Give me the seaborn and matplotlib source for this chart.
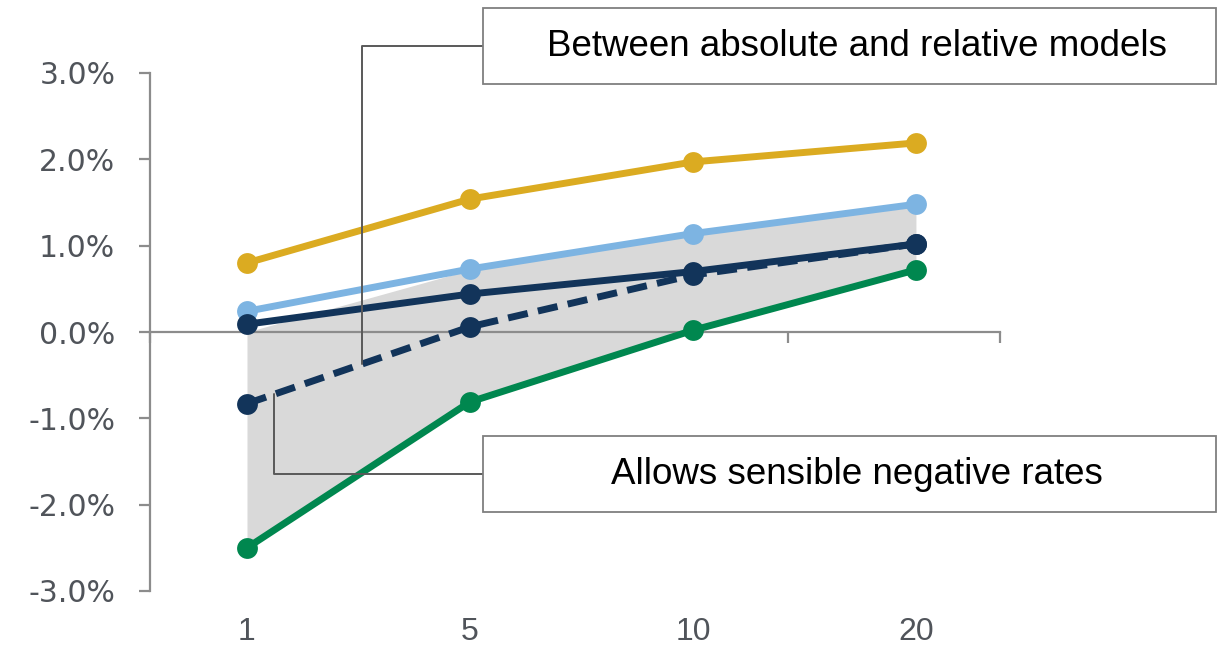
import seaborn as sns
import pandas as pd
import numpy as np
import matplotlib.pyplot as plt
from matplotlib.lines import Line2D
from matplotlib.patches import Rectangle

# data (values in %)
maturities = ["1", "5", "10", "20"]
gold = [0.80, 1.54, 1.97, 2.19]
light_blue = [0.24, 0.73, 1.14, 1.48]
navy = [0.09, 0.44, 0.70, 1.02]
navy_dashed = [-0.83, 0.06, 0.66, 1.02]
green = [-2.50, -0.81, 0.02, 0.72]
band_top = [0.0, 0.72, 1.14, 1.45]
y_ticks = [-3, -2, -1, 0, 1, 2, 3]
note_top = "Between absolute and relative models"
note_bottom = "Allows sensible negative rates"

sns.set_style("white")
plt.rcParams["font.family"] = ["DejaVu Sans"]

W, H = 1218, 649
fig = plt.figure(figsize=(W / 100, H / 100), dpi=100)
ax = fig.add_axes([150 / W, 1 - 591 / H, 850 / W, 518 / H])

x = np.arange(len(maturities))
df = pd.DataFrame({"x": x, "gold": gold, "light_blue": light_blue, "navy": navy,
                   "navy_dashed": navy_dashed, "green": green})

ax.fill_between(x, band_top, green, color="#d9d9d9", lw=0, zorder=1)

mk = dict(marker="o", markersize=15, markeredgewidth=0, linewidth=5, zorder=3)
sns.lineplot(data=df, x="x", y="green", color="#00874f", ax=ax, **mk)
sns.lineplot(data=df, x="x", y="navy_dashed", color="#12345a", ax=ax,
             dashes=False, **mk)
ax.lines[-1].set_dashes([2.9, 1.5])
sns.lineplot(data=df, x="x", y="light_blue", color="#7db4e2", ax=ax, **mk)
sns.lineplot(data=df, x="x", y="navy", color="#12345a", ax=ax, **mk)
sns.lineplot(data=df, x="x", y="gold", color="#dbab21", ax=ax, **mk)

x0, x1 = -0.435, 3.377
ax.set_xlim(x0, x1)
ax.set_ylim(-3, 3)
ax.set_xlabel("")
ax.set_ylabel("")

axis_col = "#8c8c8c"
for s in ["top", "right"]:
    ax.spines[s].set_visible(False)
ax.spines["left"].set_color(axis_col)
ax.spines["left"].set_linewidth(1.6)
ax.spines["bottom"].set_color(axis_col)
ax.spines["bottom"].set_linewidth(1.6)
ax.spines["bottom"].set_position(("data", 0))
ax.spines["bottom"].set_zorder(2)

ax.set_yticks(y_ticks)
ax.set_yticklabels([f"{v:.1f}%" for v in y_ticks])
ax.tick_params(axis="y", direction="out", length=8, width=1.6, color=axis_col,
               labelsize=21.5, labelcolor="#50545a", pad=17, left=True)
ax.set_xticks(np.linspace(x0, x1, 5))
ax.set_xticklabels([])
ax.tick_params(axis="x", direction="out", length=8, width=1.6, color=axis_col,
               bottom=True)

for i, lab in enumerate(maturities):
    ax.text(i, -3.48, lab, ha="center", va="center", fontsize=23,
            color="#50545a", clip_on=False,
            family=["Liberation Sans Narrow", "Liberation Sans", "DejaVu Sans"])

# annotation boxes and connectors
to_fig = fig.transFigure.inverted()


def fig_px(px, py):
    return px / W, 1 - py / H


def data_to_fig(xd, yd):
    return to_fig.transform(ax.transData.transform((xd, yd)))


line_col = "#595959"
for (top, bot, text, anchor_y, xd) in [(8, 84, note_top, 46, 0.516),
                                        (436, 512, note_bottom, 474, 0.12)]:
    bx, by = fig_px(483, bot)
    fig.add_artist(Rectangle((bx, by), (1216 - 483) / W, (bot - top) / H,
                             transform=fig.transFigure, facecolor="white",
                             edgecolor="#7f7f7f", linewidth=1.3, zorder=5))
    tx, ty = fig_px(857, (top + bot) / 2)
    fig.text(tx, ty, text, ha="center", va="center", fontsize=26.5,
             color="black", family=["Liberation Sans", "DejaVu Sans"], zorder=6)
    yd = np.interp(xd, x, navy_dashed)
    ex, ey = data_to_fig(xd, yd)
    ax_, ay_ = fig_px(483, anchor_y)
    fig.add_artist(Line2D([ax_, ex, ex], [ay_, ay_, ey], transform=fig.transFigure,
                          color=line_col, linewidth=1.4, zorder=4))

fig.savefig("out.png", dpi=100)
